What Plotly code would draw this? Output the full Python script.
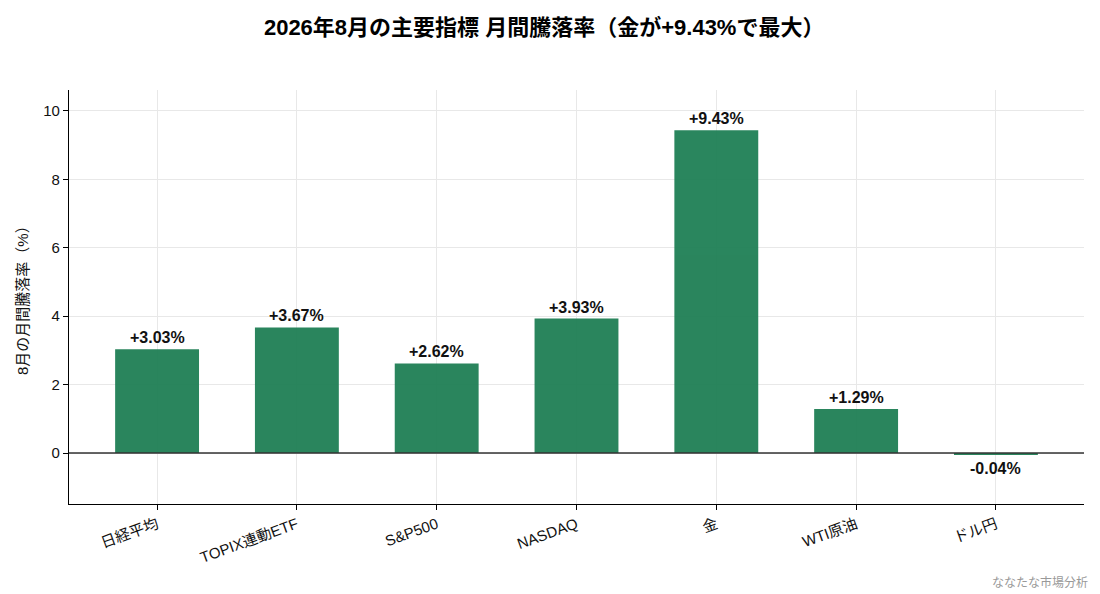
import plotly.graph_objects as go

categories = ["日経平均", "TOPIX連動ETF", "S&P500", "NASDAQ", "金", "WTI原油", "ドル円"]
values = [3.03, 3.67, 2.62, 3.93, 9.43, 1.29, -0.04]
title_text = "2026年8月の主要指標 月間騰落率（金が+9.43%で最大）"
y_title = "8月の月間騰落率（%）"
watermark = "ななたな市場分析"
y_ticks = [0, 2, 4, 6, 8, 10]

FONT = "Liberation Sans, Noto Sans CJK JP"
BAR_COLOR = "#1f7f55"

fig = go.Figure()
fig.add_trace(go.Bar(
    x=list(range(len(categories))),
    y=values,
    width=0.6,
    marker=dict(color=BAR_COLOR, line=dict(width=0)),
    opacity=0.95,
    hoverinfo="skip",
))

for i, v in enumerate(values):
    label = f"{v:+.2f}%"
    fig.add_annotation(
        x=i, y=v, xref="x", yref="y",
        text=f"<b>{label}</b>",
        showarrow=False,
        yanchor="bottom" if v >= 0 else "top",
        yshift=1 if v >= 0 else -4,
        font=dict(family=FONT, size=16, color="#111111"),
    )

fig.add_hline(y=0, line=dict(color="#333333", width=1.5))

fig.add_annotation(
    text=y_title, xref="paper", yref="paper", x=-0.0463, y=0.5,
    xanchor="center", yanchor="middle", textangle=-90, showarrow=False,
    font=dict(family=FONT, size=15, color="#111111"),
)

fig.add_annotation(
    text=watermark, xref="paper", yref="paper", x=1.006, y=-0.19,
    xanchor="right", yanchor="middle", showarrow=False,
    font=dict(family=FONT, size=12, color="#999999"),
)

fig.update_layout(
    width=1092, height=586,
    paper_bgcolor="white", plot_bgcolor="white",
    margin=dict(l=61, r=16, t=82, b=90),
    showlegend=False,
    font=dict(family=FONT, size=15, color="#111111"),
    title=dict(text=f"<b>{title_text}</b>", x=0.491, xanchor="center",
               y=0.9676, yanchor="middle",
               font=dict(family=FONT, size=22, color="#000000")),
)
fig.update_xaxes(
    range=[-0.63, 6.63], automargin=False,
    tickmode="array", tickvals=list(range(len(categories))), ticktext=categories,
    tickangle=-20,
    showline=True, linecolor="#000000", linewidth=1.3,
    ticks="outside", ticklen=5, tickcolor="#000000",
    showgrid=True, gridcolor="#e8e8e8", gridwidth=1,
    zeroline=False,
    tickfont=dict(family=FONT, size=15, color="#111111"),
)
fig.update_yaxes(
    range=[-1.49, 10.61], automargin=False,
    tickmode="array", tickvals=y_ticks,
    showline=True, linecolor="#000000", linewidth=1.3,
    ticks="outside", ticklen=5, tickcolor="#000000",
    showgrid=True, gridcolor="#e8e8e8", gridwidth=1,
    zeroline=False,
    tickfont=dict(family=FONT, size=15, color="#111111"),
)

fig.write_html("out.html")
